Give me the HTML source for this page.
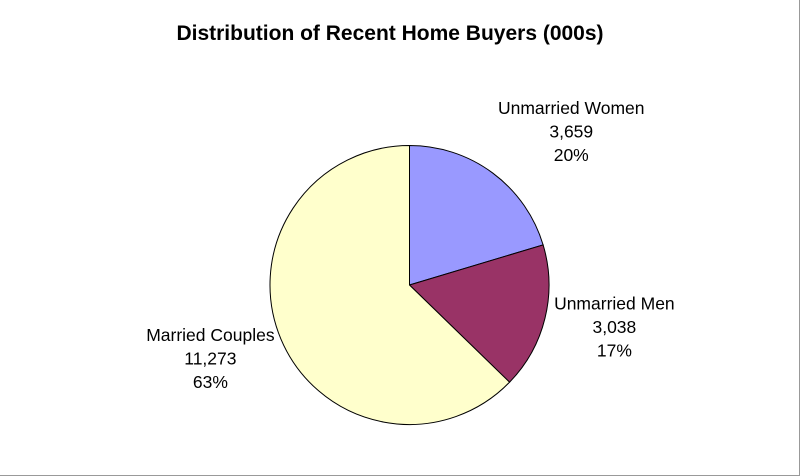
<!DOCTYPE html>
<html><head><meta charset="utf-8"><style>
html,body{margin:0;padding:0;background:#fff}
svg{display:block}
text{font-family:"Liberation Sans",Arial,sans-serif;fill:#000}
</style></head><body>
<svg width="800" height="476" viewBox="0 0 800 476">
<rect x="0" y="0" width="800" height="476" fill="#fff"/>
<line x1="0" y1="475.5" x2="800" y2="475.5" stroke="#999" stroke-width="1"/>
<line x1="799.5" y1="0" x2="799.5" y2="476" stroke="#999" stroke-width="1"/>
<text x="390" y="40" text-anchor="middle" font-size="21" font-weight="bold">Distribution of Recent Home Buyers (000s)</text>
<g id="slices"></g>
<g id="labels"></g>
</svg>
<script>
const categories = ["Unmarried Women", "Unmarried Men", "Married Couples"];
const values = [3659, 3038, 11273];
const valueLabels = ["3,659", "3,038", "11,273"];
const percentLabels = ["20%", "17%", "63%"];
const colors = ["#9999ff", "#993366", "#ffffcc"];
const labelNudge = [[34, 24], [-3, -3], [-2, -4]];

const cx = 409.5, cy = 285, r = 139.5;
const total = values.reduce((a, b) => a + b, 0);
const slicesG = document.getElementById('slices');
const labelsG = document.getElementById('labels');
const NS = 'http://www.w3.org/2000/svg';
function pt(a, rr) { return [cx + rr * Math.sin(a), cy - rr * Math.cos(a)]; }
let acc = 0;
values.forEach((v, i) => {
  const a0 = acc / total * 2 * Math.PI;
  acc += v;
  const a1 = acc / total * 2 * Math.PI;
  const [x0, y0] = pt(a0, r), [x1, y1] = pt(a1, r);
  const large = (a1 - a0) > Math.PI ? 1 : 0;
  const p = document.createElementNS(NS, 'path');
  p.setAttribute('d', `M${cx},${cy} L${x0},${y0} A${r},${r} 0 ${large} 1 ${x1},${y1} Z`);
  p.setAttribute('fill', colors[i]);
  p.setAttribute('stroke', '#000');
  p.setAttribute('stroke-width', '1');
  
  
  slicesG.appendChild(p);
  const am = (a0 + a1) / 2;
  let [lx, ly] = pt(am, 214);
  lx += labelNudge[i][0];
  ly += labelNudge[i][1];
  const t = document.createElementNS(NS, 'text');
  t.setAttribute('text-anchor', 'middle');
  t.setAttribute('font-size', '17.5');
  
  
  [categories[i], valueLabels[i], percentLabels[i]].forEach((s, k) => {
    const ts = document.createElementNS(NS, 'tspan');
    ts.setAttribute('x', lx);
    ts.setAttribute('y', ly + (k - 1) * 23.5);
    ts.textContent = s;
    t.appendChild(ts);
  });
  labelsG.appendChild(t);
});
</script>
</body></html>
